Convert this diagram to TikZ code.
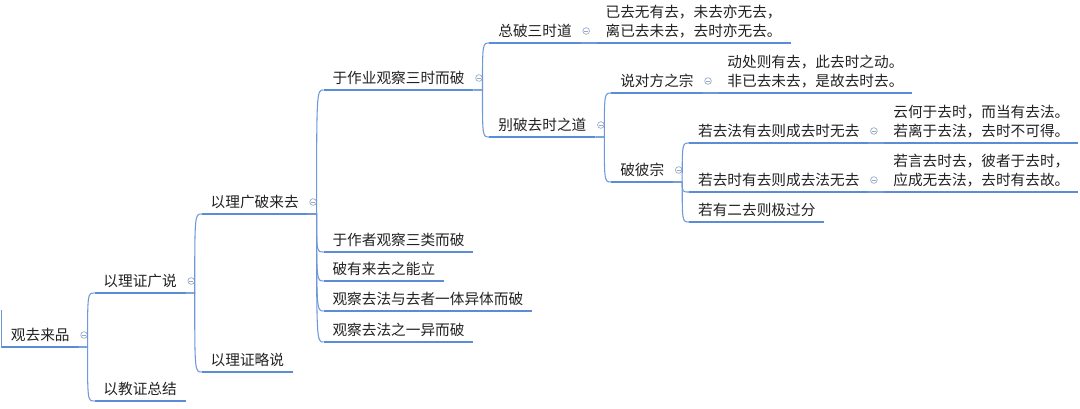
\documentclass[tikz,border=0pt]{standalone}
\usepackage{fontspec}
\newfontfamily\cjk{Noto Sans CJK SC}
\definecolor{mmline}{RGB}{91,141,214}
\definecolor{mmconn}{RGB}{110,152,216}
\definecolor{mmcirc}{RGB}{150,168,196}
\definecolor{mmtext}{RGB}{34,34,34}
\newcommand\twol[2]{\begin{tabular}[b]{@{}l@{}}#1\\#2\end{tabular}}
\newcommand\mmhub[1]{%
  \coordinate (#1v) at ([xshift=6.75pt]#1.south east);
  \node[collapse] (#1c) at ([shift={(5.5,-12)}]#1.south east) {};}
\newcommand\mmbranch[2]{\draw[conn] (#1.south east) -- (#1v) .. controls (#1v |- #2.south west) .. (#2.south west);}
\begin{document}
\begin{tikzpicture}[x=0.75pt,y=-0.75pt,
  uline/.style={draw=mmline,line width=1.5pt},
  conn/.style={draw=mmconn,line width=0.8pt},
  topic/.style={anchor=south west,inner xsep=6.5pt,inner ysep=0pt,
    text height=9pt,text depth=4.8pt,text=mmtext,
    font=\cjk\fontsize{11pt}{14.25pt}\selectfont,
    append after command={(\tikzlastnode.south west) edge[uline] (\tikzlastnode.south east)}},
  collapse/.style={circle,draw=mmcirc,fill=white,line width=0.5pt,minimum size=5pt,inner sep=0pt,
    path picture={\draw[mmcirc,line width=0.5pt] ([xshift=-1.4pt]path picture bounding box.center) -- ([xshift=1.4pt]path picture bounding box.center);}}]
\useasboundingbox (0,0) rectangle (1080,409);
\fill[white] (0,0) rectangle (1080,409);

\node[topic] (root) at (2,347) {观去来品};
\mmhub{root}
\node[topic] (a) at ([shift={(16,-54)}]root.south east) {以理证广说};
\node[topic] (b) at ([shift={(16,54)}]root.south east) {以教证总结};
\mmhub{a}
\node[topic] (aa) at ([shift={(16,-79)}]a.south east) {以理广破来去};
\node[topic] (ab) at ([shift={(16,79)}]a.south east) {以理证略说};
\mmhub{aa}
\node[topic] (aaa) at ([shift={(16,-124)}]aa.south east) {于作业观察三时而破};
\node[topic] (aab) at ([shift={(16,38)}]aa.south east) {于作者观察三类而破};
\node[topic] (aac) at ([shift={(16,67)}]aa.south east) {破有来去之能立};
\node[topic] (aad) at ([shift={(16,97)}]aa.south east) {观察去法与去者一体异体而破};
\node[topic] (aae) at ([shift={(16,128)}]aa.south east) {观察去法之一异而破};
\mmhub{aaa}
\node[topic] (p1) at ([shift={(16,-47)}]aaa.south east) {总破三时道};
\node[topic] (p2) at ([shift={(16,47)}]aaa.south east) {别破去时之道};
\mmhub{p1}
\node[topic] (p1x) at ([shift={(16,0)}]p1.south east) {\twol{已去无有去，未去亦无去，}{离已去未去，去时亦无去。}};
\mmhub{p2}
\node[topic] (q1) at ([shift={(16,-44)}]p2.south east) {说对方之宗};
\node[topic] (q2) at ([shift={(16,45)}]p2.south east) {破彼宗};
\mmhub{q1}
\node[topic] (q1x) at ([shift={(16,0)}]q1.south east) {\twol{动处则有去，此去时之动。}{非已去未去，是故去时去。}};
\mmhub{q2}
\node[topic] (r1) at ([shift={(16,-39)}]q2.south east) {若去法有去则成去时无去};
\node[topic] (r2) at ([shift={(16,10)}]q2.south east) {若去时有去则成去法无去};
\node[topic] (r3) at ([shift={(16,40)}]q2.south east) {若有二去则极过分};
\mmhub{r1}
\node[topic] (r1x) at ([shift={(16,0)}]r1.south east) {\twol{云何于去时，而当有去法。}{若离于去法，去时不可得。}};
\mmhub{r2}
\node[topic] (r2x) at ([shift={(16,0)}]r2.south east) {\twol{若言去时去，彼者于去时，}{应成无去法，去时有去故。}};

\coordinate (offp) at (1.2,310);
\draw[conn] (offp) |- (root.south west);
\mmbranch{root}{a}
\mmbranch{root}{b}
\mmbranch{a}{aa}
\mmbranch{a}{ab}
\mmbranch{aa}{aaa}
\mmbranch{aa}{aab}
\mmbranch{aa}{aac}
\mmbranch{aa}{aad}
\mmbranch{aa}{aae}
\mmbranch{aaa}{p1}
\mmbranch{aaa}{p2}
\mmbranch{p1}{p1x}
\mmbranch{p2}{q1}
\mmbranch{p2}{q2}
\mmbranch{q1}{q1x}
\mmbranch{q2}{r1}
\mmbranch{q2}{r2}
\mmbranch{q2}{r3}
\mmbranch{r1}{r1x}
\mmbranch{r2}{r2x}
\end{tikzpicture}
\end{document}
